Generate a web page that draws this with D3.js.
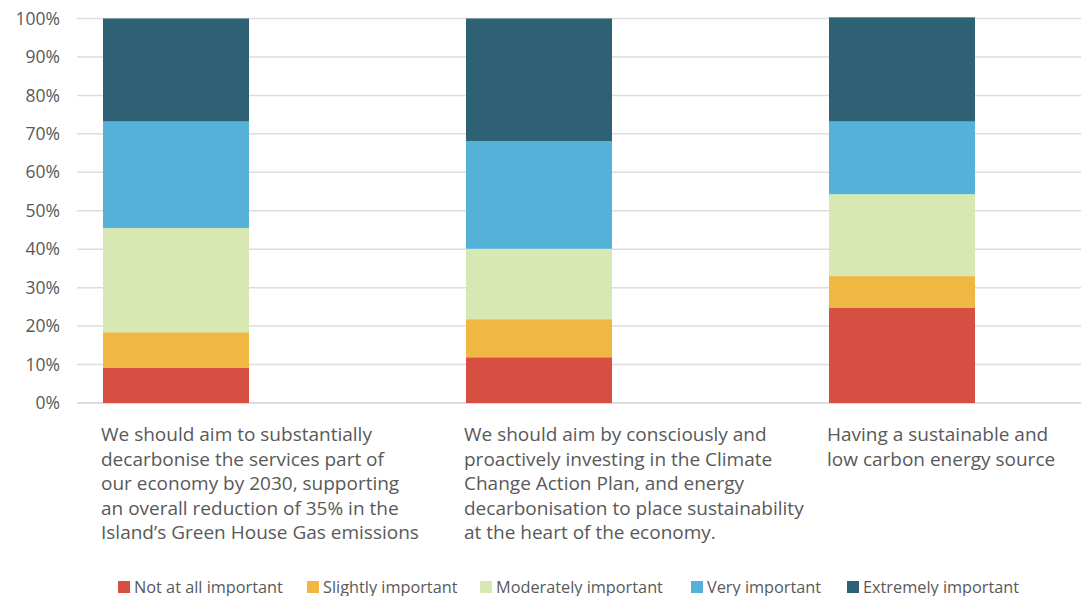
<!DOCTYPE html>
<html>
<head>
<meta charset="utf-8">
<script src="https://cdn.jsdelivr.net/npm/d3@7"></script>
<style>
  html, body { margin: 0; padding: 0; background: #ffffff; }
  svg { display: block; }
  text { font-family: "Open Sans", "Noto Sans", sans-serif; }
</style>
</head>
<body>
<svg id="chart" width="1081" height="596"></svg>
<script>
// ---- data ----
const categories = ["Q1", "Q2", "Q3"];
const categoryLines = [
  ["We should aim to substantially", "decarbonise the services part of", "our economy by 2030, supporting", "an overall reduction of 35% in the", "Island\u2019s Green House Gas emissions"],
  ["We should aim by consciously and", "proactively investing in the Climate", "Change Action Plan, and energy", "decarbonisation to place sustainability", "at the heart of the economy."],
  ["Having a sustainable and", "low carbon energy source"]
];
const seriesNames = ["Not at all important", "Slightly important", "Moderately important", "Very important", "Extremely important"];
const notAtAll   = [0.091, 0.119, 0.247];
const slightly   = [0.093, 0.099, 0.083];
const moderately = [0.271, 0.183, 0.213];
const very       = [0.277, 0.280, 0.189];
const extremely  = [0.268, 0.319, 0.271];
const yTicks = [0, 0.1, 0.2, 0.3, 0.4, 0.5, 0.6, 0.7, 0.8, 0.9, 1.0];
const colors = ["#D64F42", "#F0B842", "#D8E8B3", "#56B1D9", "#2D6173"];

// ---- build table ----
const seriesValues = [notAtAll, slightly, moderately, very, extremely];
const rows = categories.map((c, i) => {
  const r = { cat: c };
  seriesNames.forEach((s, j) => { r[s] = seriesValues[j][i]; });
  return r;
});

const svg = d3.select("#chart");
const gridLeft = 77, gridRight = 1081;
const y = d3.scaleLinear().domain([0, 1]).range([403, 18.5]);
const x = d3.scaleBand().domain(categories).range([77, 1001])
  .paddingInner(1 - 146 / 363).paddingOuter(26 / 363);
const color = d3.scaleOrdinal().domain(seriesNames).range(colors);

// gridlines
svg.append("g").selectAll("line").data(yTicks).join("line")
  .attr("x1", gridLeft).attr("x2", gridRight)
  .attr("y1", d => y(d)).attr("y2", d => y(d))
  .attr("stroke", d => d === 0 ? "#D0D0D0" : "#DDDDDD")
  .attr("stroke-width", 1.5);

// y axis labels
const yAxis = d3.axisLeft(y).tickValues(yTicks).tickFormat(d3.format(".0%")).tickSize(0).tickPadding(0);
const yg = svg.append("g").attr("transform", "translate(60,0)").call(yAxis);
yg.select(".domain").remove();
yg.selectAll("text").attr("font-size", 17.5).attr("fill", "#595959")
  .attr("font-family", "'Open Sans', sans-serif");

// bars
const stack = d3.stack().keys(seriesNames);
const stacked = stack(rows);
svg.append("g").selectAll("g").data(stacked).join("g")
  .attr("fill", d => color(d.key))
  .selectAll("rect").data(d => d).join("rect")
  .attr("x", d => x(d.data.cat))
  .attr("width", x.bandwidth())
  .attr("y", d => y(d[1]))
  .attr("height", d => y(d[0]) - y(d[1]));

// category labels
const lab = svg.append("g").selectAll("text").data(categories).join("text")
  .attr("x", d => x(d) - 2)
  .attr("y", 441)
  .attr("font-size", 19)
  .attr("fill", "#595959");
lab.selectAll("tspan").data((d, i) => categoryLines[i]).join("tspan")
  .attr("x", function() { return d3.select(this.parentNode).attr("x"); })
  .attr("dy", (d, i) => i === 0 ? 0 : 24.5)
  .text(d => d);

// legend
const legendX = [118, 307, 480, 691, 847];
const lg = svg.append("g").selectAll("g").data(seriesNames).join("g")
  .attr("transform", (d, i) => `translate(${legendX[i]},581)`);
lg.append("rect").attr("width", 12).attr("height", 12).attr("fill", d => color(d));
lg.append("text").attr("x", 16).attr("y", 11.5).attr("font-size", 16.3).attr("fill", "#595959").text(d => d);
</script>
</body>
</html>
